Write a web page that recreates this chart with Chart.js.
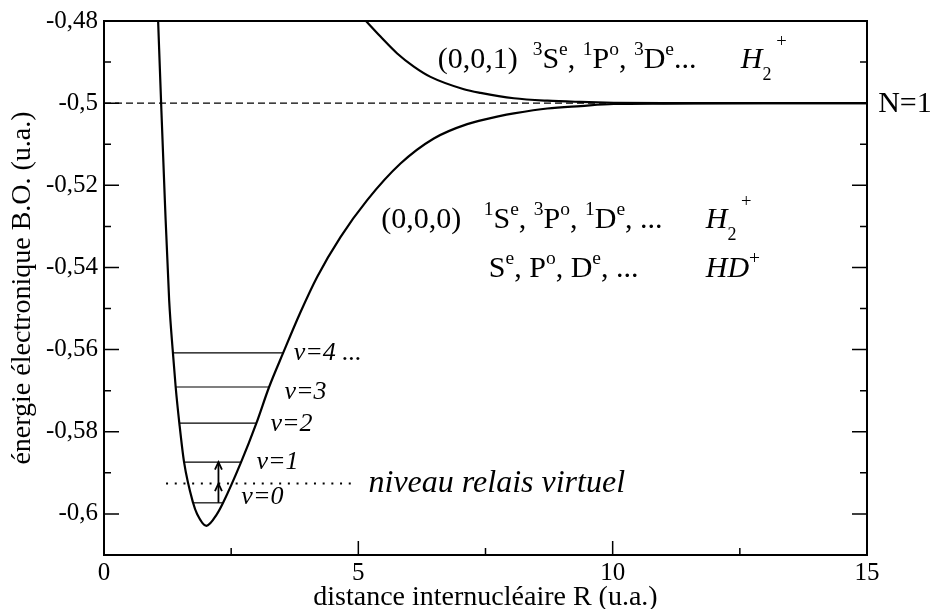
<!DOCTYPE html>
<html lang="fr">
<head>
<meta charset="UTF-8">
<title>Courbes de potentiel H2+ / HD+</title>
<script src="https://cdn.jsdelivr.net/npm/chart.js@4.4.0/dist/chart.umd.min.js"></script>
<style>
  body { margin: 0; background: #fff; }
  #wrap { width: 934px; height: 609px; }
</style>
</head>
<body>
<div id="wrap"><canvas id="pot"></canvas></div>
<script>
// axes
const xTicks = [0, 5, 10, 15];
const xMinor = [2.5, 7.5, 12.5];
const yTicks = [-0.48, -0.5, -0.52, -0.54, -0.56, -0.58, -0.6];
const yMinor = [-0.49, -0.51, -0.53, -0.55, -0.57, -0.59];

// courbe (0,0,0) : R (u.a.) et énergie B.O. (u.a.)
const groundR = [1.064, 1.123, 1.196, 1.281, 1.355, 1.409, 1.481, 1.574, 1.751, 1.83, 2.013,
  2.223, 2.341, 2.695, 2.996, 3.246, 3.522, 3.862, 4.19, 4.649, 5.174, 5.829, 6.484,
  7.141, 7.797, 8.058, 8.715, 9.37, 10.02, 11.0, 13.0, 15.0];
const groundE = [-0.48, -0.5, -0.5236, -0.548, -0.5608, -0.5691, -0.5779, -0.5874, -0.5973, -0.6, -0.6029,
  -0.6, -0.5973, -0.5874, -0.5779, -0.5691, -0.5608, -0.5509, -0.5423, -0.5326, -0.5236, -0.5147, -0.5086,
  -0.5051, -0.5031, -0.5025, -0.5013, -0.5007, -0.5002, -0.5001, -0.5, -0.5];

// courbe (0,0,1)
const upperR = [5.15, 5.436, 5.764, 6.091, 6.419, 7.075, 7.403, 8.058, 8.715, 9.37, 10.02, 11.0, 15.0];
const upperE = [-0.48, -0.4838, -0.4879, -0.4911, -0.4936, -0.4966, -0.4975, -0.4988, -0.4994, -0.4997, -0.4999, -0.5, -0.5];

// niveaux vibrationnels v=0..4
const levelNames = ['v=0', 'v=1', 'v=2', 'v=3', 'v=4 ...'];
const levelE = [-0.5973, -0.5874, -0.5779, -0.5691, -0.5608];
const levelLeftR = [1.751, 1.574, 1.481, 1.409, 1.355];
const levelRightR = [2.341, 2.695, 2.996, 3.246, 3.522];

// seuil N=1 et niveau relais
const thresholdR = [0, 15];
const thresholdE = -0.5;
const relayR = [1.22, 4.87];
const relayE = -0.5926;
const arrowR = 2.25;

const SERIF = '"Liberation Serif", "Times New Roman", serif';

function line(xs, ys) {
  return xs.map((x, i) => ({ x, y: ys[i] }));
}

const datasets = [
  { data: line(thresholdR, [thresholdE, thresholdE]), borderColor: '#000', borderWidth: 1.3, borderDash: [7, 4] },
  { data: line(relayR, [relayE, relayE]), borderColor: '#000', borderWidth: 2, borderDash: [2, 6.7] },
  { data: line(groundR, groundE), borderColor: '#000', borderWidth: 2.2, cubicInterpolationMode: 'monotone' },
  { data: line(upperR, upperE), borderColor: '#000', borderWidth: 2.2, cubicInterpolationMode: 'monotone' },
  { data: line([arrowR, arrowR], [levelE[0], levelE[1]]), borderColor: '#000', borderWidth: 1.8 }
];
levelE.forEach((e, i) => {
  datasets.push({ data: line([levelLeftR[i], levelRightR[i]], [e, e]), borderColor: '#000', borderWidth: 1.2 });
});

// annotations : position en unités des axes (R, E) de la ligne de base gauche
const H2 = [['H', '', true], ['2', 'sub'], [' +', 'top']];
const notes = [
  { r: 6.56, e: -0.4915, size: 30, parts: ['(0,0,1)  ', ['3', 'sup'], 'S', ['e', 'sup'], ', ', ['1', 'sup'], 'P', ['o', 'sup'], ', ', ['3', 'sup'], 'D', ['e', 'sup'], '...'] },
  { r: 12.52, e: -0.4915, size: 30, parts: H2 },
  { r: 15.22, e: -0.5021, size: 30, parts: ['N=1'] },
  { r: 5.45, e: -0.5305, size: 30, parts: ['(0,0,0)   ', ['1', 'sup'], 'S', ['e', 'sup'], ', ', ['3', 'sup'], 'P', ['o', 'sup'], ', ', ['1', 'sup'], 'D', ['e', 'sup'], ', ...'] },
  { r: 11.83, e: -0.5305, size: 30, parts: H2 },
  { r: 7.566, e: -0.5424, size: 30, parts: ['S', ['e', 'sup'], ', P', ['o', 'sup'], ', D', ['e', 'sup'], ', ...'] },
  { r: 11.83, e: -0.5424, size: 30, parts: [['HD', '', true], ['+', 'sup']] },
  { r: 5.2, e: -0.5946, size: 32, parts: [['niveau relais virtuel', '', true]] }
];
const levelLabelR = [2.70, 2.997, 3.273, 3.547, 3.73];
const levelLabelE = [-0.5977, -0.589, -0.5797, -0.572, -0.5625];
levelNames.forEach((t, i) => {
  notes.push({ r: levelLabelR[i], e: levelLabelE[i], size: 26, parts: [[t, '', true]] });
});

function drawRich(ctx, x, y, parts, size) {
  let cx = x;
  parts.forEach(p => {
    const [text, mode, italic] = Array.isArray(p) ? p : [p, '', false];
    let s = size, dy = 0;
    if (mode === 'sup') { s = size * 0.65; dy = -size * 0.45; }
    if (mode === 'sub') { s = size * 0.6; dy = size * 0.39; }
    if (mode === 'top') { s = size * 0.62; dy = -size * 0.7; }
    ctx.font = (italic ? 'italic ' : '') + s + 'px ' + SERIF;
    ctx.fillText(text, cx, y + dy);
    cx += ctx.measureText(text).width;
  });
}

const decor = {
  id: 'decor',
  afterDatasetsDraw(chart) {
    const { ctx, chartArea: a, scales: { x, y } } = chart;
    ctx.save();
    ctx.strokeStyle = '#000';
    ctx.fillStyle = '#000';

    // cadre
    ctx.lineWidth = 2;
    ctx.strokeRect(a.left, a.top, a.right - a.left, a.bottom - a.top);

    // graduations vers l'intérieur
    ctx.lineWidth = 1.5;
    ctx.beginPath();
    const xMarks = xTicks.map(v => [v, 14]).concat(xMinor.map(v => [v, 7]));
    xMarks.forEach(([v, len]) => {
      const px = x.getPixelForValue(v);
      ctx.moveTo(px, a.bottom);
      ctx.lineTo(px, a.bottom - len);
    });
    const yMarks = yTicks.map(v => [v, 15]).concat(yMinor.map(v => [v, 7]));
    yMarks.forEach(([v, len]) => {
      const py = y.getPixelForValue(v);
      ctx.moveTo(a.left, py);
      ctx.lineTo(a.left + len, py);
      ctx.moveTo(a.right, py);
      ctx.lineTo(a.right - len, py);
    });
    ctx.stroke();

    // pointes de flèche (v=1 et niveau relais)
    ctx.lineWidth = 1.8;
    const ax = x.getPixelForValue(arrowR);
    [levelE[1], relayE].forEach(e => {
      const py = y.getPixelForValue(e);
      ctx.beginPath();
      ctx.moveTo(ax - 3.5, py + 7.5);
      ctx.lineTo(ax, py);
      ctx.lineTo(ax + 3.5, py + 7.5);
      ctx.stroke();
    });

    // textes
    ctx.textBaseline = 'alphabetic';
    ctx.textAlign = 'left';
    notes.forEach(n => {
      drawRich(ctx, x.getPixelForValue(n.r), y.getPixelForValue(n.e), n.parts, n.size);
    });
    ctx.restore();
  }
};

new Chart(document.getElementById('pot'), {
  type: 'scatter',
  data: { datasets },
  options: {
    responsive: true,
    maintainAspectRatio: false,
    animation: false,
    layout: { padding: { left: 0, right: 67, top: 21, bottom: 0 } },
    elements: { point: { radius: 0 }, line: { fill: false } },
    datasets: { scatter: { showLine: true, pointRadius: 0 } },
    plugins: { legend: { display: false }, tooltip: { enabled: false } },
    scales: {
      x: {
        type: 'linear', min: 0, max: 15,
        afterBuildTicks: s => { s.ticks = xTicks.map(value => ({ value })); },
        afterFit: s => { s.height = 54; },
        grid: { display: false, drawTicks: false },
        border: { display: false },
        ticks: { color: '#000', padding: 3, maxRotation: 0, font: { family: SERIF, size: 25 } },
        title: {
          display: true, text: 'distance internucléaire R (u.a.)', color: '#000',
          font: { family: SERIF, size: 28, lineHeight: 1 }, padding: { top: 0, bottom: -3 }
        }
      },
      y: {
        type: 'linear', min: -0.61, max: -0.48,
        afterBuildTicks: s => { s.ticks = yTicks.map(value => ({ value })); },
        afterFit: s => { s.width = 104; },
        grid: { display: false, drawTicks: false },
        border: { display: false },
        ticks: {
          color: '#000', padding: 6, font: { family: SERIF, size: 25 },
          callback: v => Number(v.toFixed(2)).toString().replace('.', ',')
        },
        title: {
          display: true, text: 'énergie électronique B.O. (u.a.)', color: '#000',
          font: { family: SERIF, size: 28, lineHeight: 1 }, padding: { top: 9, bottom: 0 }
        }
      }
    }
  },
  plugins: [decor]
});
</script>
</body>
</html>
